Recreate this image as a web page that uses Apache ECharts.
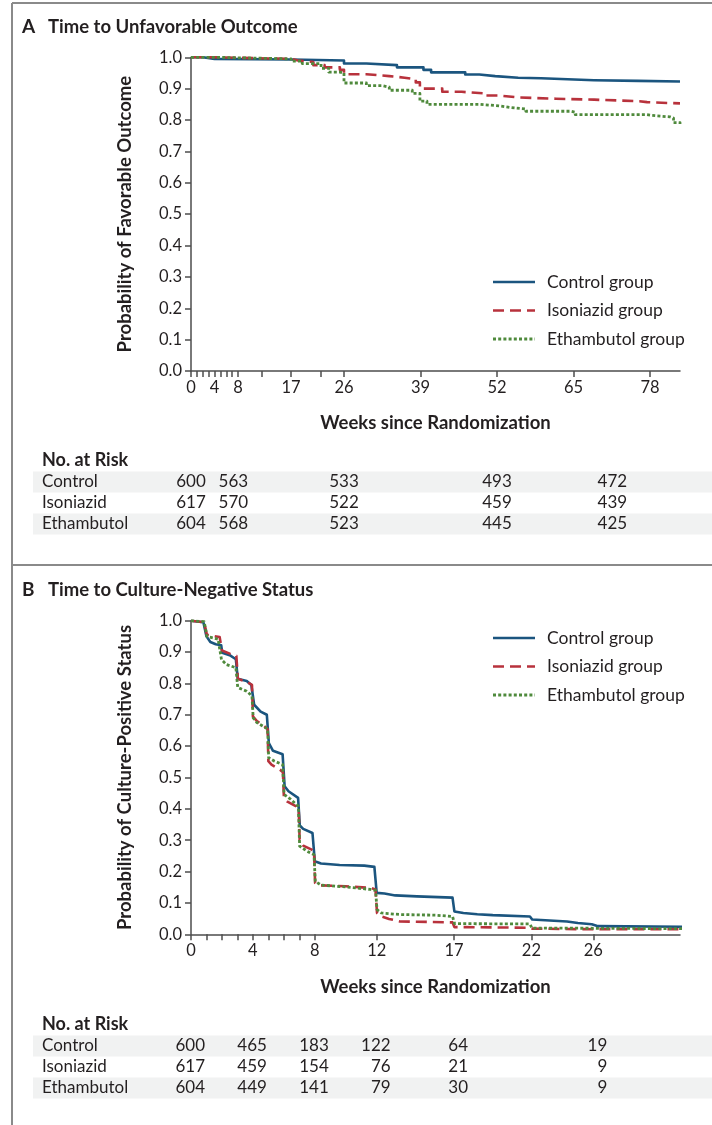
<!DOCTYPE html>
<html>
<head>
<meta charset="utf-8">
<script src="https://cdn.jsdelivr.net/npm/echarts@6/dist/echarts.min.js"></script>
<style>
html,body{margin:0;padding:0;background:#fff;}
#c{width:712px;height:1125px;}
</style>
</head>
<body>
<div id="c"></div>
<script>
// ---------- Panel A data: Time to Unfavorable Outcome ----------
const seriesNames = ['Control group', 'Isoniazid group', 'Ethambutol group'];
const aControl = [[0,1.0],[2,0.995],[4,0.993],[17,0.99],[26,0.98],[29.8,0.975],[35,0.968],[39.5,0.96],[40.8,0.952],[46.6,0.945],[49,0.94],[51.7,0.935],[55.6,0.933],[59.5,0.927],[68.5,0.925],[76,0.923],[83.1,0.923]];
const aIsoniazid = [[0,1.0],[4,0.995],[17,0.99],[18.2,0.985],[20.8,0.975],[22.7,0.968],[25.3,0.96],[26,0.946],[29.8,0.94],[33.7,0.935],[36.3,0.93],[38.2,0.92],[38.9,0.9],[42.7,0.89],[46,0.885],[49.8,0.878],[52.4,0.872],[55.6,0.868],[62,0.865],[68.5,0.86],[76.2,0.857],[77.5,0.853],[83.1,0.853]];
const aEthambutol = [[0,1.0],[4,0.995],[17,0.988],[18.9,0.98],[22.1,0.965],[23.4,0.953],[25.3,0.95],[26,0.918],[29.8,0.91],[32.4,0.905],[33.7,0.895],[37.6,0.885],[38.9,0.86],[40.1,0.85],[49.2,0.845],[52.4,0.84],[54.3,0.835],[56.9,0.828],[64.6,0.825],[65.3,0.817],[77.5,0.815],[78.2,0.81],[81.4,0.806],[82,0.792],[83.1,0.787]];

// ---------- Panel B data: Time to Culture-Negative Status ----------
const bControl = [[0,1.0],[0.8,0.995],[1.0,0.95],[1.25,0.932],[1.6,0.925],[1.95,0.922],[2.02,0.898],[2.5,0.89],[2.9,0.877],[3.02,0.815],[3.6,0.808],[3.9,0.795],[4.08,0.732],[4.5,0.71],[4.9,0.7],[5.03,0.61],[5.3,0.585],[5.92,0.574],[6.05,0.472],[6.3,0.456],[6.92,0.435],[7.03,0.347],[7.25,0.336],[7.85,0.323],[8.0,0.233],[8.4,0.226],[9.6,0.221],[11.2,0.219],[11.85,0.215],[12.0,0.132],[12.5,0.13],[13.2,0.124],[14.6,0.121],[16.9,0.117],[17.02,0.073],[17.6,0.068],[18.5,0.064],[19.5,0.061],[21.9,0.057],[22.05,0.047],[24.3,0.041],[25,0.036],[25.9,0.032],[26.3,0.026],[31.8,0.024]];
const bIsoniazid = [[0,1.0],[0.85,0.995],[1.03,0.955],[1.85,0.948],[2.0,0.905],[2.5,0.895],[2.93,0.888],[3.03,0.815],[3.6,0.805],[3.94,0.795],[4.0,0.695],[4.26,0.68],[4.7,0.665],[4.95,0.655],[5.0,0.552],[5.2,0.541],[5.75,0.525],[5.94,0.517],[6.0,0.44],[6.2,0.424],[6.8,0.408],[6.96,0.398],[7.02,0.302],[7.25,0.283],[7.8,0.27],[7.95,0.265],[8.02,0.164],[8.4,0.156],[10,0.153],[11.6,0.148],[11.92,0.143],[12.02,0.068],[12.3,0.057],[12.8,0.049],[13.5,0.041],[16.9,0.038],[17.02,0.023],[21.9,0.021],[22.05,0.018],[26,0.016],[31.8,0.016]];
const bEthambutol = [[0,1.0],[0.85,0.997],[1.03,0.95],[1.75,0.941],[1.97,0.876],[2.3,0.86],[2.9,0.85],[3.02,0.787],[3.6,0.775],[3.94,0.76],[4.02,0.69],[4.26,0.675],[4.7,0.662],[4.95,0.655],[5.02,0.563],[5.4,0.552],[5.92,0.541],[6.02,0.446],[6.45,0.43],[6.94,0.408],[7.02,0.281],[7.5,0.265],[7.95,0.254],[8.03,0.169],[8.4,0.157],[10,0.151],[11.6,0.143],[11.93,0.14],[12.02,0.079],[12.3,0.068],[13.5,0.063],[15.8,0.061],[16.9,0.057],[17.03,0.034],[21.9,0.033],[22.03,0.02],[31.8,0.018]];

// ---------- Axis tick values ----------
const aTicks = [0,1,2,3,4,5,6,7,8,12,17,22,26,39,52,65,78];
const aTickLabels = [0,4,8,17,26,39,52,65,78];
const bTicks = [0,1,2,3,4,5,6,7,8,12,17,22,26];
const bTickLabels = [0,4,8,12,17,22,26];
const yTickLabels = [0,0.1,0.2,0.3,0.4,0.5,0.6,0.7,0.8,0.9,1.0];

// ---------- No. at risk tables ----------
const riskGroups = ['Control', 'Isoniazid', 'Ethambutol'];
const aRiskWeeks = [0, 7.2, 26, 52, 71.6];
const aRisk = [[600,563,533,493,472],[617,570,522,459,439],[604,568,523,445,425]];
const bRiskWeeks = [0, 4, 8, 12, 17, 26];
const bRisk = [[600,465,183,122,64,19],[617,459,154,76,21,9],[604,449,141,79,30,9]];

const FONT = 'Lato';
const colors = ['#1b557f', '#b8323c', '#4f8a3c'];
const lineTypes = ['solid', [11,6], [3,2.2]];
const lineWidths = [2.6, 2.6, 2.8];
const txt = '#231f20';
const axisCol = '#4d4d4d';

const chart = echarts.init(document.getElementById('c'), null, {renderer:'canvas'});

function xAxisCfg(grid, max, ticks, labels) {
  return {
    type:'value', gridIndex:grid, min:0, max:max,
    name:'Weeks since Randomization', nameLocation:'middle', nameGap:43,
    nameTextStyle:{fontFamily:FONT, fontWeight:'bold', fontSize:18.5, color:txt},
    axisLine:{show:true, onZero:false, lineStyle:{color:axisCol, width:1.5}},
    axisTick:{show:true, customValues:ticks, length:6, lineStyle:{color:axisCol, width:1.5}},
    axisLabel:{show:true, customValues:labels, margin:8, fontFamily:FONT, fontSize:16.5, color:txt, hideOverlap:false},
    splitLine:{show:false}
  };
}
function yAxisCfg(grid, name) {
  return {
    type:'value', gridIndex:grid, min:0, max:1, interval:0.1,
    name:name, nameLocation:'middle', nameGap:56,
    nameTextStyle:{fontFamily:FONT, fontWeight:'bold', fontSize:18.5, color:txt},
    axisLine:{show:true, lineStyle:{color:axisCol, width:1.5}},
    axisTick:{show:true, length:6, lineStyle:{color:axisCol, width:1.5}},
    axisLabel:{show:true, customValues:yTickLabels, margin:9, fontFamily:FONT, fontSize:16.5, color:txt,
      formatter:v=>v.toFixed(1)},
    splitLine:{show:false}
  };
}
function lineSeries(i, grid, data, step) {
  return {
    type:'line', name:seriesNames[i], xAxisIndex:grid, yAxisIndex:grid,
    data:data, step:step, showSymbol:false, symbol:'none', silent:true,
    lineStyle:{color:colors[i], width:lineWidths[i], type:lineTypes[i], cap:'butt', join:'round'},
    z: 2 + i, animation:false
  };
}

chart.setOption({
  animation:false,
  backgroundColor:'#fff',
  grid:[
    {left:191, top:57.3, width:489, height:313.7},
    {left:191, top:620.7, width:489, height:313.6}
  ],
  xAxis:[ xAxisCfg(0, 83.1, aTicks, aTickLabels), xAxisCfg(1, 31.6, bTicks, bTickLabels) ],
  yAxis:[ yAxisCfg(0, 'Probability of Favorable Outcome'), yAxisCfg(1, 'Probability of Culture-Positive Status') ],
  series:[
    lineSeries(0,0,aControl,'end'), lineSeries(1,0,aIsoniazid,'end'), lineSeries(2,0,aEthambutol,'end'),
    lineSeries(0,1,bControl,false), lineSeries(1,1,bIsoniazid,false), lineSeries(2,1,bEthambutol,false)
  ]
});

// ---------- Decorations: frame, titles, legends, tables ----------
const g = [];
g.push({type:'line', shape:{x1:12, y1:3, x2:712, y2:3}, style:{stroke:'#8a8a8a', lineWidth:2}});
g.push({type:'line', shape:{x1:12, y1:3, x2:12, y2:1125}, style:{stroke:'#8a8a8a', lineWidth:2}});
g.push({type:'line', shape:{x1:12, y1:565, x2:712, y2:565}, style:{stroke:'#8a8a8a', lineWidth:2}});
function title(letter, text, y) {
  g.push({type:'text', x:22, y:y, style:{text:letter, font:'bold 19px '+FONT, fill:txt, textVerticalAlign:'middle'}});
  g.push({type:'text', x:48, y:y, style:{text:text, font:'bold 18.5px '+FONT, fill:txt, textVerticalAlign:'middle'}});
}
title('A', 'Time to Unfavorable Outcome', 27);
title('B', 'Time to Culture-Negative Status', 590);
function legend(yStart) {
  for (let i=0;i<3;i++) {
    const y = yStart + i*28.5;
    g.push({type:'line', shape:{x1:493, y1:y, x2:535, y2:y},
      style:{stroke:colors[i], lineWidth:lineWidths[i], lineDash: i===0?null:lineTypes[i]}});
    g.push({type:'text', x:547, y:y, style:{text:seriesNames[i], font:'17.5px '+FONT, fill:txt, textVerticalAlign:'middle'}});
  }
}
legend(282);
legend(638);
function table(grid, yHead, weeks, rows, align) {
  g.push({type:'text', x:42, y:yHead, style:{text:'No. at Risk', font:'bold 18px '+FONT, fill:txt, textVerticalAlign:'middle'}});
  for (let r=0;r<3;r++) {
    const y = yHead + 22 + r*21;
    if (r!==1) g.push({type:'rect', shape:{x:33, y:y-10.5, width:679, height:21}, style:{fill:'#f1f2f2'}, z:-1});
    g.push({type:'text', x:42, y:y, style:{text:riskGroups[r], font:'17px '+FONT, fill:txt, textVerticalAlign:'middle'}});
    weeks.forEach((w,k)=>{
      const px = chart.convertToPixel({gridIndex:grid}, [w,0])[0];
      g.push({type:'text', x: align==='right' ? px+14 : px, y:y,
        style:{text:String(rows[r][k]), font:'17px '+FONT, fill:txt, textAlign:align, textVerticalAlign:'middle'}});
    });
  }
}
table(0, 460, aRiskWeeks, aRisk, 'center');
table(1, 1024, bRiskWeeks, bRisk, 'right');

chart.setOption({graphic:{elements:g}});
</script>
</body>
</html>
